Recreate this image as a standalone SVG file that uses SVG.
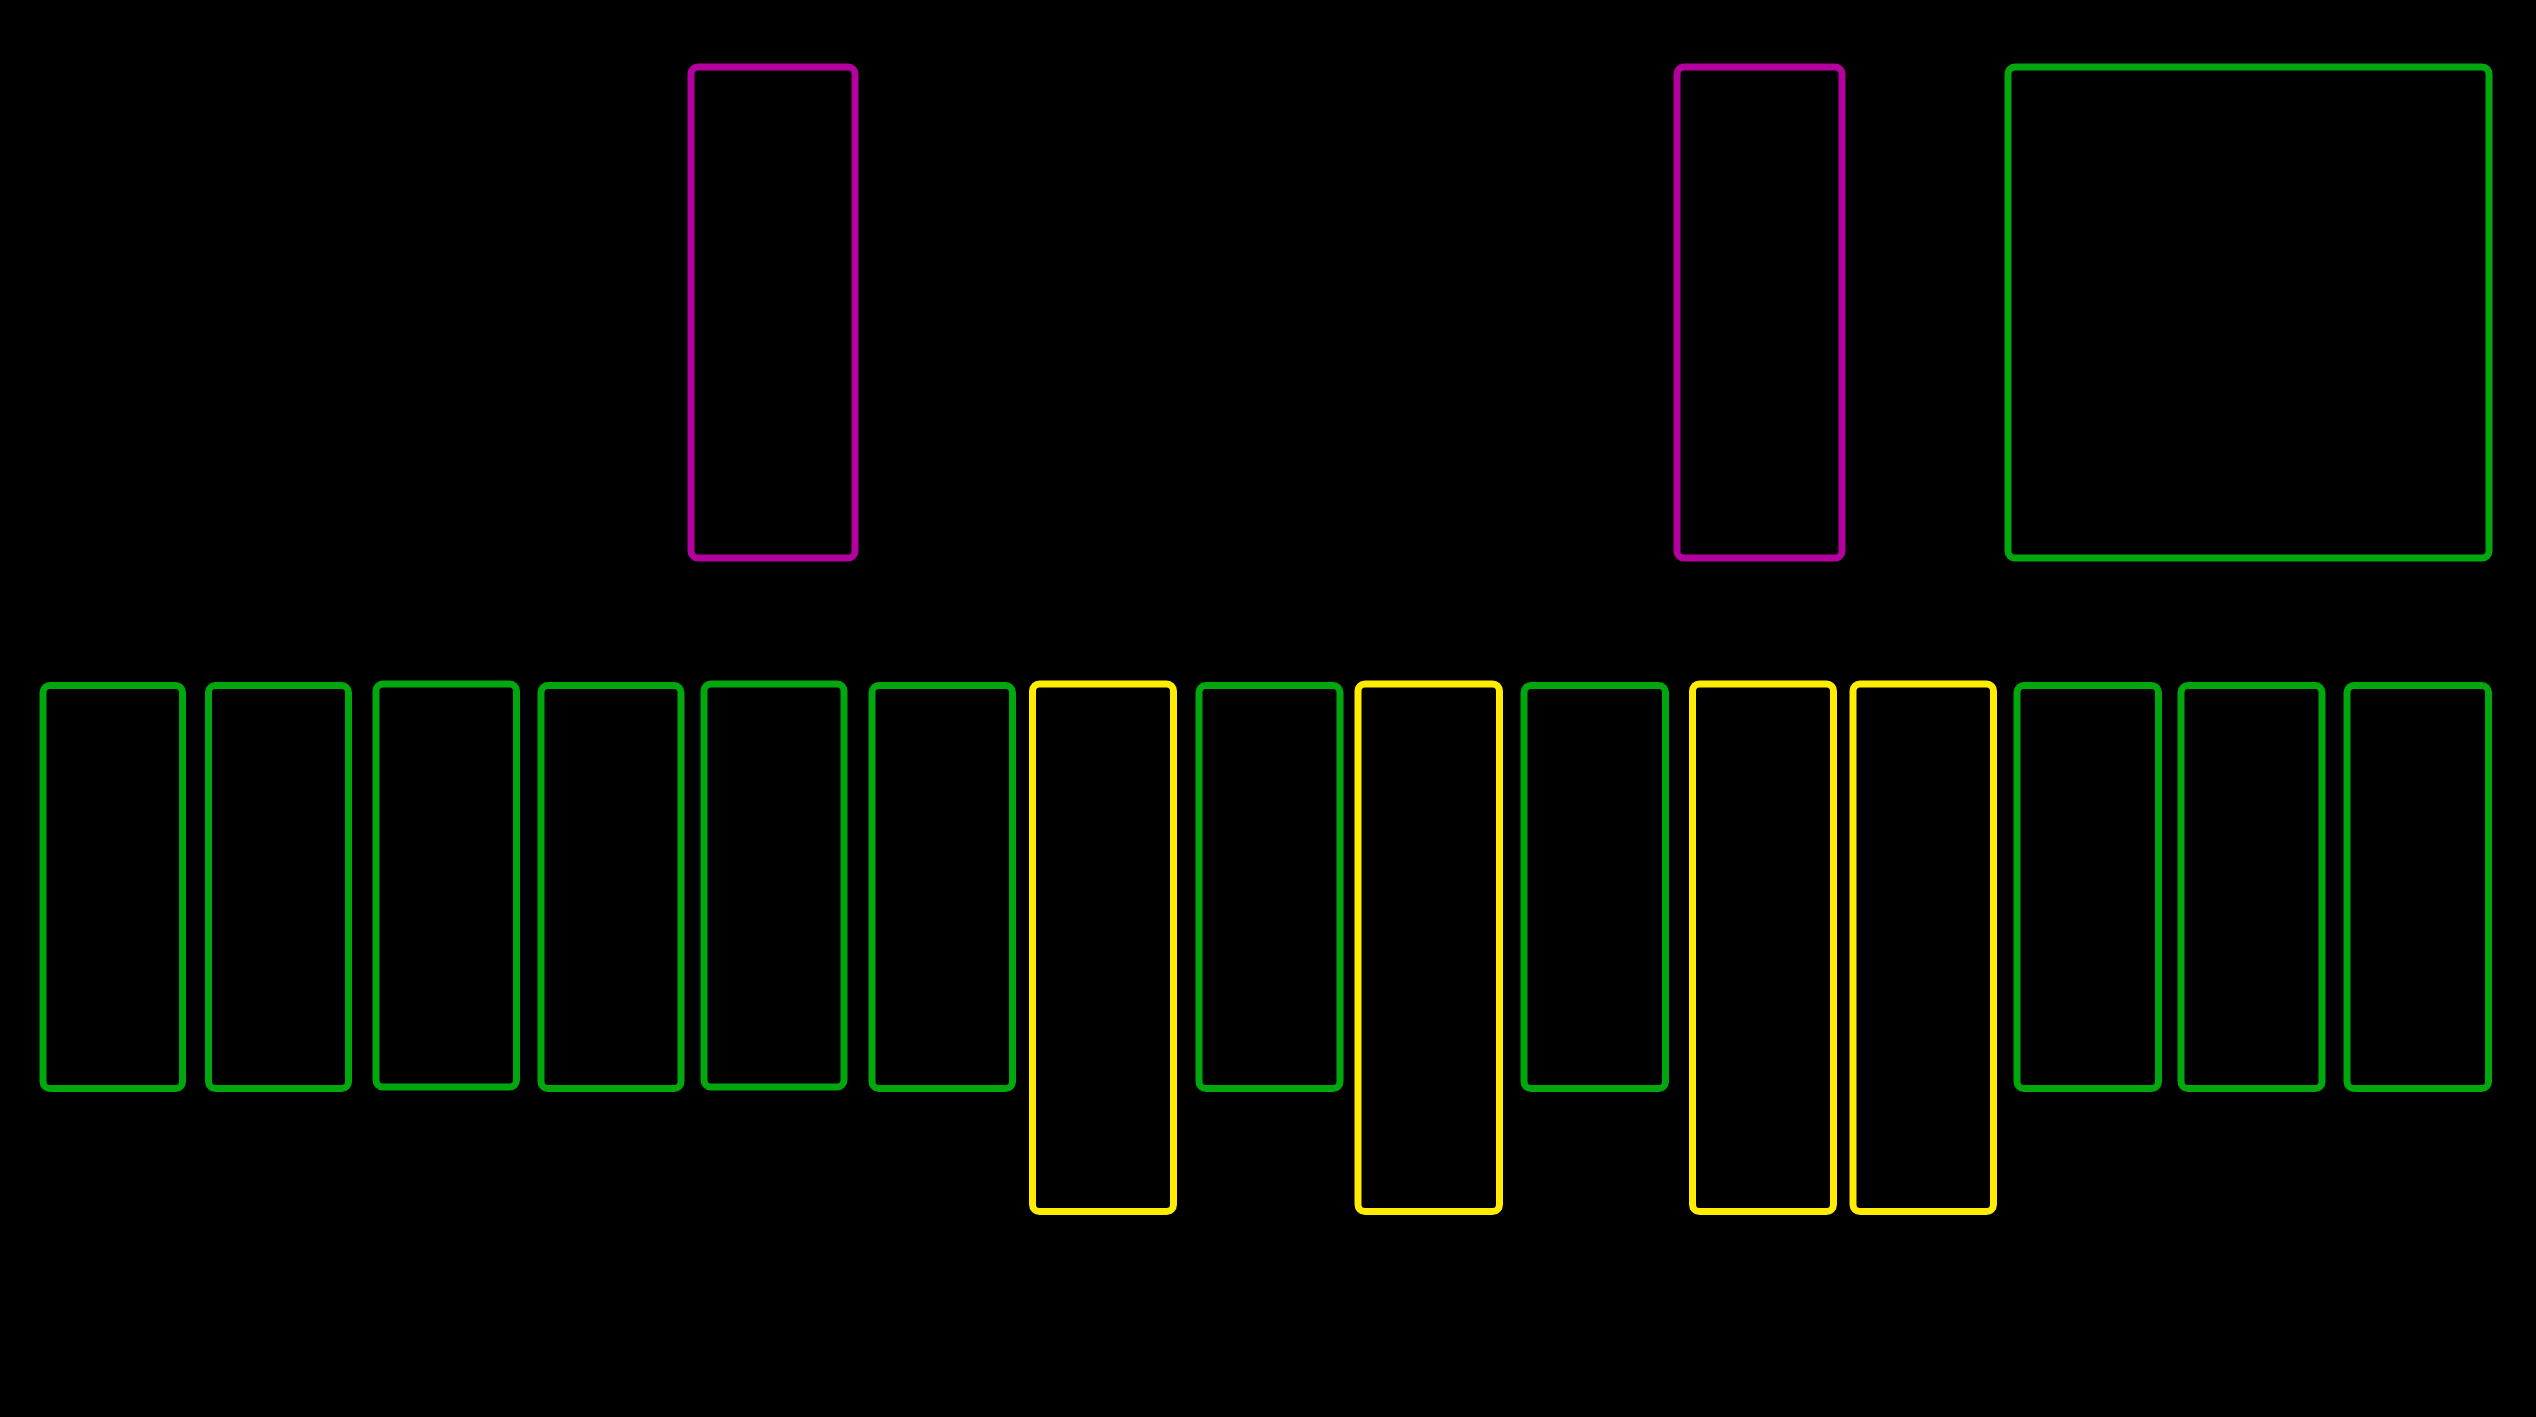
<svg xmlns="http://www.w3.org/2000/svg" width="2536" height="1417" viewBox="0 0 2536 1417">
<style>
.n{fill:none;stroke-width:7;}
.g{stroke:#00a80e;}
.m{stroke:#b4009e;}
.y{stroke:#ffec00;}
</style>
<rect x="0" y="0" width="2536" height="1417" fill="#000000"/>
<g id="connectors"></g>
<g id="top1"><rect class="n m" x="691" y="67" width="164" height="491" rx="7"/></g>
<g id="top2"><rect class="n m" x="1677" y="67" width="165" height="491" rx="7"/></g>
<g id="top3"><rect class="n g" x="2008" y="67" width="481" height="491" rx="7"/></g>
<g id="b1"><rect class="n g" x="43" y="685.5" width="139.5" height="403" rx="7"/></g>
<g id="b2"><rect class="n g" x="208.5" y="685.5" width="140" height="403" rx="7"/></g>
<g id="b3"><rect class="n g" x="376" y="684" width="140.5" height="403" rx="7"/></g>
<g id="b4"><rect class="n g" x="541" y="685.5" width="140" height="403" rx="7"/></g>
<g id="b5"><rect class="n g" x="704" y="684" width="140" height="403" rx="7"/></g>
<g id="b6"><rect class="n g" x="872" y="685.5" width="140.5" height="403" rx="7"/></g>
<g id="b7"><rect class="n y" x="1032.5" y="684" width="141" height="527.5" rx="7"/></g>
<g id="b8"><rect class="n g" x="1199" y="685.5" width="141" height="403" rx="7"/></g>
<g id="b9"><rect class="n y" x="1358" y="684" width="141.5" height="527.5" rx="7"/></g>
<g id="b10"><rect class="n g" x="1524" y="685.5" width="141.5" height="403" rx="7"/></g>
<g id="b11"><rect class="n y" x="1692.5" y="684" width="141" height="527.5" rx="7"/></g>
<g id="b12"><rect class="n y" x="1853" y="684" width="140.5" height="527.5" rx="7"/></g>
<g id="b13"><rect class="n g" x="2017" y="685.5" width="141.5" height="403" rx="7"/></g>
<g id="b14"><rect class="n g" x="2181" y="685.5" width="141" height="403" rx="7"/></g>
<g id="b15"><rect class="n g" x="2347" y="685.5" width="141.5" height="403" rx="7"/></g>
</svg>
